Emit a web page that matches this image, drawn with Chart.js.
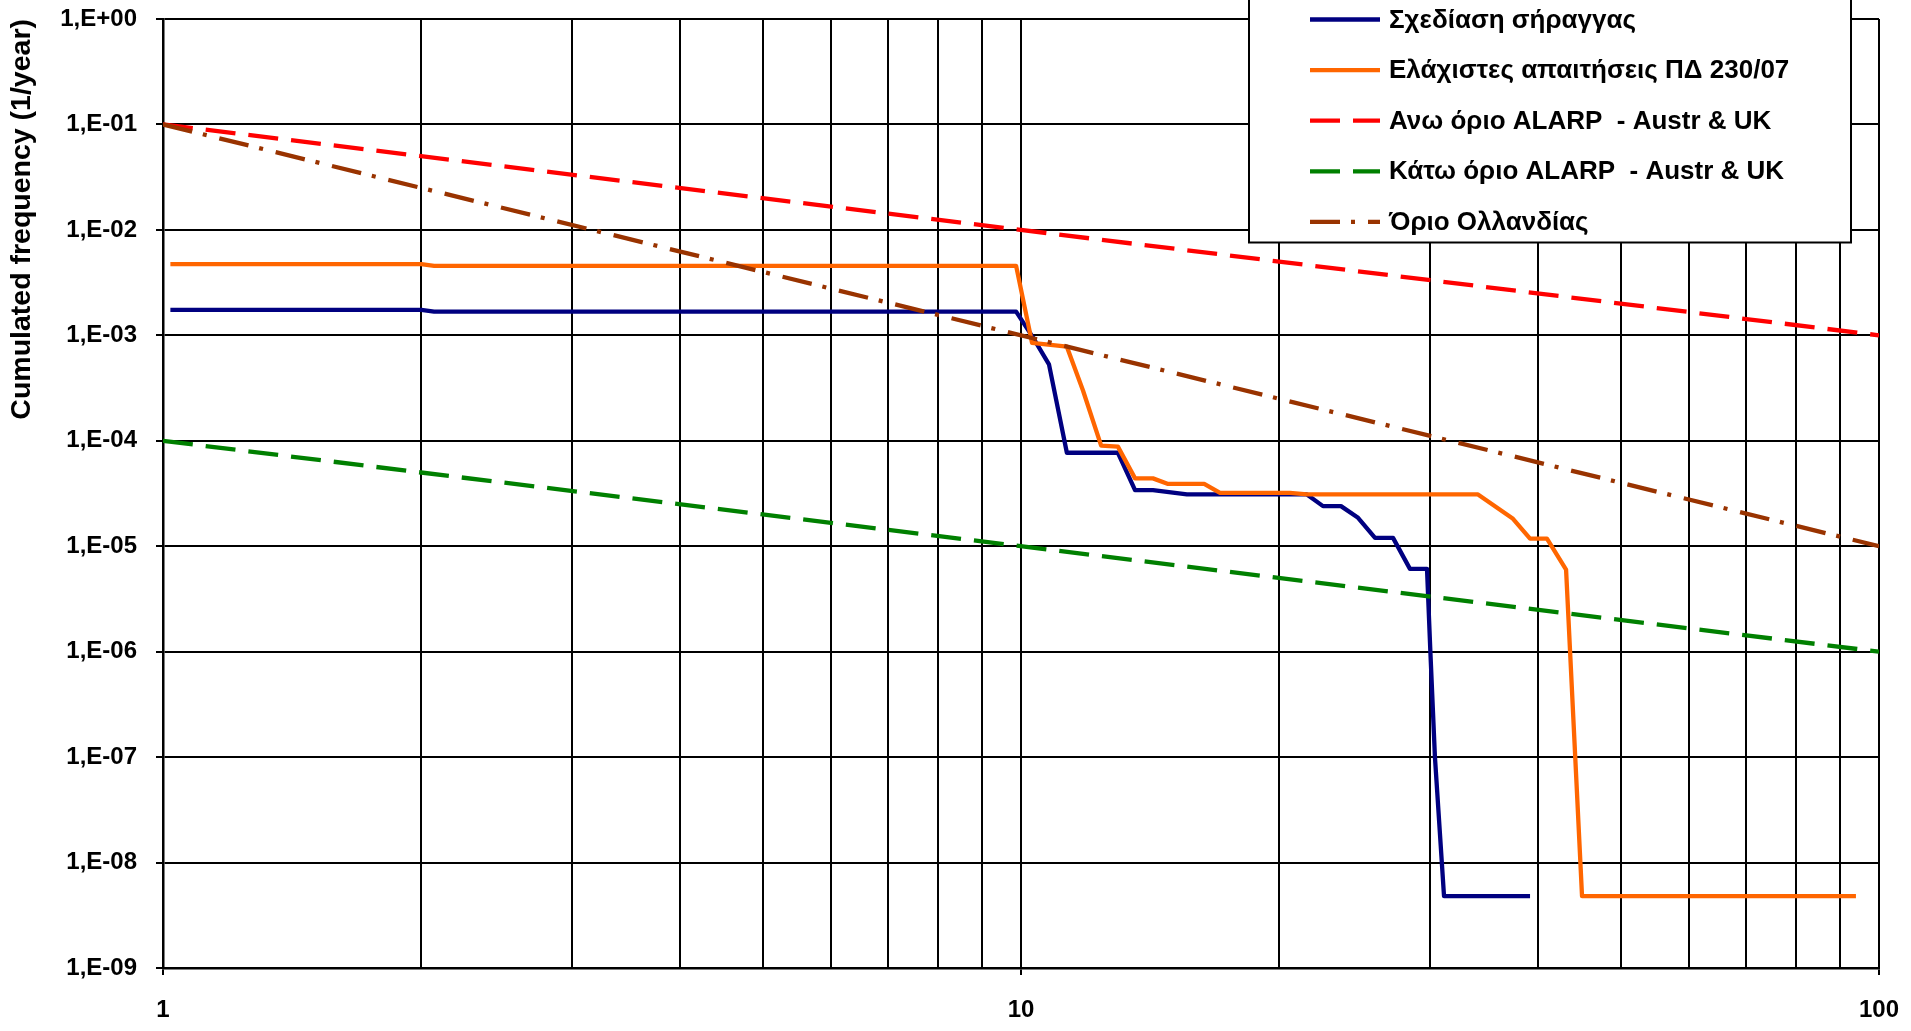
<!DOCTYPE html>
<html>
<head>
<meta charset="utf-8">
<script src="https://cdn.jsdelivr.net/npm/chart.js@4"></script>
<style>
html,body{margin:0;padding:0;background:#fff;overflow:hidden}
#wrap{width:1911px;height:1031px;position:relative}
</style>
</head>
<body>
<div id="wrap"><canvas id="c"></canvas></div>
<script>
// ---- data ----
const seriesNames = [
  'Σχεδίαση σήραγγας',
  'Ελάχιστες απαιτήσεις ΠΔ 230/07',
  'Ανω όριο ALARP  - Austr & UK',
  'Κάτω όριο ALARP  - Austr & UK',
  'Όριο Ολλανδίας'
];
const designX = [1.02, 2.0, 2.07, 9.87, 10.33, 10.78, 11.31, 12.97, 13.58, 14.25, 15.61, 21.54, 22.49, 23.6, 24.71, 25.86, 27.14, 28.4, 29.73, 30.0, 30.37, 31.12, 39.2];
const designY = [1.745e-3, 1.745e-3, 1.68e-3, 1.68e-3, 9.5e-4, 5.3e-4, 7.7e-5, 7.7e-5, 3.4e-5, 3.4e-5, 3.1e-5, 3.1e-5, 2.4e-5, 2.4e-5, 1.86e-5, 1.2e-5, 1.2e-5, 6.1e-6, 6.1e-6, 1.0e-6, 1.0e-7, 4.8e-9, 4.8e-9];
const minReqX = [1.02, 2.0, 2.07, 9.87, 10.3, 11.31, 11.81, 12.4, 12.97, 13.58, 14.25, 14.84, 16.35, 17.06, 20.58, 21.54, 34.09, 37.45, 39.2, 41.02, 43.18, 45.07, 94.0];
const minReqY = [4.73e-3, 4.73e-3, 4.56e-3, 4.56e-3, 8.5e-4, 7.8e-4, 3.0e-4, 9.0e-5, 8.8e-5, 4.4e-5, 4.4e-5, 3.9e-5, 3.9e-5, 3.2e-5, 3.2e-5, 3.1e-5, 3.1e-5, 1.82e-5, 1.18e-5, 1.18e-5, 6.0e-6, 4.8e-9, 4.8e-9];
const limitX = [1, 100];
const upperAlarpY = [0.1, 0.001];
const lowerAlarpY = [1e-4, 1e-6];
const dutchY = [0.1, 1e-5];
const xTickValues = [1,2,3,4,5,6,7,8,9,10,20,30,40,50,60,70,80,90,100];
const yTickValues = [1e-9,1e-8,1e-7,1e-6,1e-5,1e-4,1e-3,1e-2,1e-1,1];
const yAxisTitle = 'Cumulated frequency (1/year)';

// ---- helpers ----
const FONT = '"Liberation Sans", Arial, sans-serif';
function pts(xs, ys){ return xs.map((x,i)=>({x:x, y:ys[i]})); }
function isPow10(v){ const l=Math.log10(v); return Math.abs(l-Math.round(l))<1e-9; }
function yLabel(v){ const e=Math.round(Math.log10(v)); return '1,E'+(e<0?'-':'+')+String(Math.abs(e)).padStart(2,'0'); }
function zeroPad(s){ s.paddingLeft=0; s.paddingRight=0; s.paddingTop=0; s.paddingBottom=0; }

const legendPlugin = {
  id:'boxLegend',
  afterDraw(chart){
    const ctx=chart.ctx; ctx.save();
    const L=1249,R=1851,T=-4,B=242.5;
    ctx.fillStyle='#fff'; ctx.fillRect(L,T,R-L,B-T);
    ctx.strokeStyle='#000'; ctx.lineWidth=2; ctx.setLineDash([]); ctx.strokeRect(L,T,R-L,B-T);
    chart.data.datasets.forEach((ds,i)=>{
      const y=19.5+50.6*i;
      ctx.beginPath();
      ctx.strokeStyle=ds.borderColor; ctx.lineWidth=ds.borderWidth;
      ctx.setLineDash(ds.borderDash||[]); ctx.lineCap='butt';
      ctx.moveTo(1310,y); ctx.lineTo(1380,y); ctx.stroke();
      ctx.setLineDash([]);
      ctx.fillStyle='#000'; ctx.font='bold 26px '+FONT;
      ctx.textBaseline='middle'; ctx.textAlign='left';
      ctx.fillText(ds.label,1389,y+1);
    });
    ctx.restore();
  }
};

const common = {showLine:true, pointRadius:0, pointHoverRadius:0, fill:false, tension:0, borderJoinStyle:'round'};

new Chart(document.getElementById('c'), {
  type:'scatter',
  data:{
    datasets:[
      Object.assign({label:seriesNames[0], data:pts(designX,designY), borderColor:'#000080', borderWidth:4.3, order:5}, common),
      Object.assign({label:seriesNames[1], data:pts(minReqX,minReqY), borderColor:'#FF6600', borderWidth:4.3, order:4}, common),
      Object.assign({label:seriesNames[2], data:pts(limitX,upperAlarpY), borderColor:'#FF0000', borderWidth:4.3, borderDash:[30,13], order:3}, common),
      Object.assign({label:seriesNames[3], data:pts(limitX,lowerAlarpY), borderColor:'#008000', borderWidth:4.3, borderDash:[30,13], order:2}, common),
      Object.assign({label:seriesNames[4], data:pts(limitX,dutchY), borderColor:'#993300', borderWidth:4.3, borderDash:[30,11,4,13], order:1}, common)
    ]
  },
  options:{
    responsive:true, maintainAspectRatio:false, animation:false,
    layout:{padding:{top:19,right:32,left:0,bottom:0}},
    plugins:{legend:{display:false}, tooltip:{enabled:false}},
    scales:{
      x:{
        type:'logarithmic', position:'bottom', min:1, max:100,
        afterBuildTicks:s=>{ s.ticks = xTickValues.map(v=>({value:v})); },
        afterFit:s=>{ s.height = 63; zeroPad(s); },
        grid:{color:'#000', lineWidth:2, drawTicks:true, tickLength:7, tickWidth:2,
              tickColor:c=> (c.tick && isPow10(c.tick.value)) ? '#000' : 'rgba(0,0,0,0)'},
        border:{color:'#000', width:2.5},
        ticks:{autoSkip:false, maxRotation:0, minRotation:0, padding:21, color:'#000',
               font:{family:FONT, size:24, weight:'bold'},
               callback:v=> isPow10(v) ? String(Math.round(v)) : ''}
      },
      y:{
        type:'logarithmic', position:'left', min:1e-9, max:1,
        afterBuildTicks:s=>{ s.ticks = yTickValues.map(v=>({value:v})); },
        afterFit:s=>{ s.width = 163; zeroPad(s); },
        grid:{color:'#000', lineWidth:2, drawTicks:true, tickLength:7, tickWidth:2, tickColor:'#000'},
        border:{color:'#000', width:2.5},
        ticks:{autoSkip:false, padding:19, color:'#000',
               font:{family:FONT, size:24, weight:'bold'},
               callback:v=> yLabel(v)},
        title:{display:true, text:yAxisTitle, align:'end', color:'#000',
               font:{family:FONT, size:28.5, weight:'bold'}, padding:{top:5,bottom:0}}
      }
    }
  },
  plugins:[legendPlugin]
});
</script>
</body>
</html>
